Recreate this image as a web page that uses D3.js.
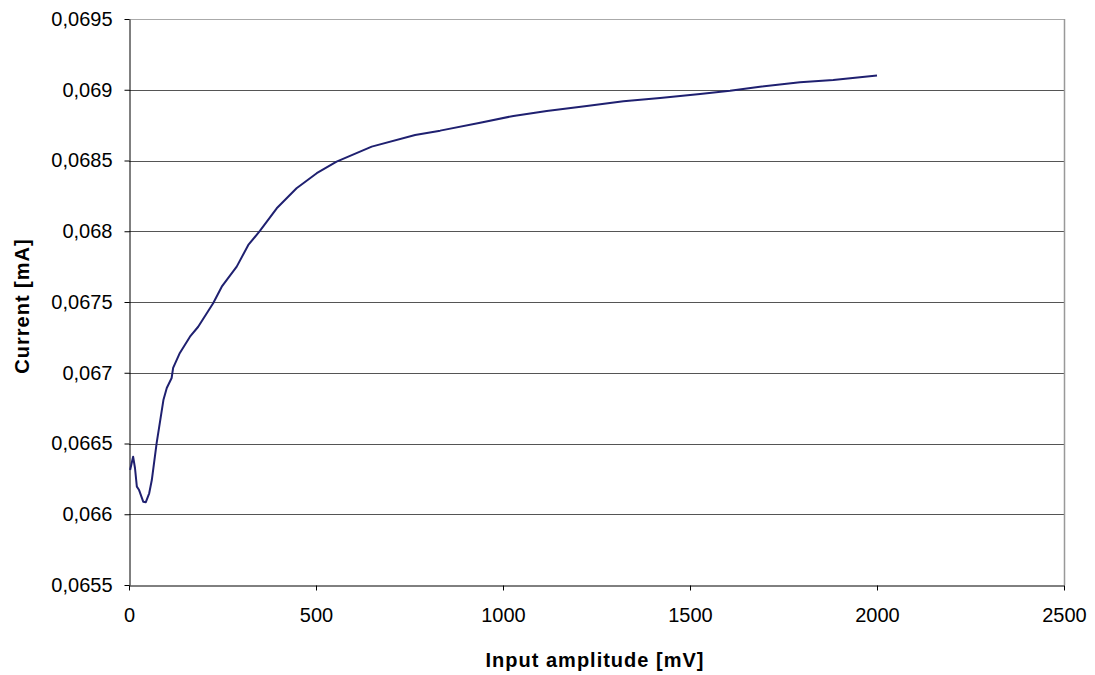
<!DOCTYPE html>
<html>
<head>
<meta charset="utf-8">
<script src="https://cdn.jsdelivr.net/npm/d3@7"></script>
<style>
  body { margin: 0; background: #fff; }
  svg { display: block; }
  text { font-family: "Liberation Sans", Arial, sans-serif; }
</style>
</head>
<body>
<svg id="chart" width="1095" height="675"></svg>
<script>
// Data
const amplitude = [3, 11, 16, 21, 27, 38, 45, 54, 61, 74, 92, 101, 114, 118, 136, 163, 185, 225, 248, 288, 319, 350, 395, 448, 502, 555, 649, 765, 832, 939, 1028, 1117, 1224, 1322, 1420, 1527, 1607, 1687, 1794, 1883, 2000];
const current = [0.066313, 0.066407, 0.066327, 0.066195, 0.066171, 0.066089, 0.066085, 0.066148, 0.066242, 0.066504, 0.066807, 0.066892, 0.066963, 0.067034, 0.06714, 0.067255, 0.067325, 0.067491, 0.067608, 0.06775, 0.067903, 0.068002, 0.068162, 0.068304, 0.06841, 0.068492, 0.068598, 0.06868, 0.068711, 0.068767, 0.068815, 0.06885, 0.068885, 0.068918, 0.068942, 0.06897, 0.068993, 0.069022, 0.069053, 0.069069, 0.0691];
const xTicks = [0, 500, 1000, 1500, 2000, 2500];
const yTicks = [0.0655, 0.066, 0.0665, 0.067, 0.0675, 0.068, 0.0685, 0.069, 0.0695];
const xTitle = "Input amplitude [mV]";
const yTitle = "Current [mA]";

(function () {
const svg = d3.select("#chart");
const mLeft = 129, mRight = 1064, mTop = 19, mBottom = 585;

const x = d3.scaleLinear().domain([0, 2500]).range([mLeft, mRight]);
const y = d3.scaleLinear().domain([0.0655, 0.0695]).range([mBottom, mTop]);

// gridlines
svg.append("g").selectAll("line")
  .data(yTicks.slice(1, -1))
  .join("line")
  .attr("x1", mLeft).attr("x2", mRight)
  .attr("y1", d => Math.round(y(d)) + 0.5).attr("y2", d => Math.round(y(d)) + 0.5)
  .attr("stroke", "#555").attr("stroke-width", 1);

// top and right frame
svg.append("line").attr("x1", mLeft).attr("x2", mRight)
  .attr("y1", Math.round(y(0.0695)) + 0.5).attr("y2", Math.round(y(0.0695)) + 0.5)
  .attr("stroke", "#aaa").attr("stroke-width", 1);
svg.append("line").attr("x1", Math.round(mRight) + 0.5).attr("x2", Math.round(mRight) + 0.5)
  .attr("y1", mTop).attr("y2", mBottom)
  .attr("stroke", "#999").attr("stroke-width", 1.5);

const fmt = d => String(d).replace(".", ",");

// y axis
const yAxis = svg.append("g")
  .attr("transform", `translate(${mLeft + 0.5},0)`)
  .call(d3.axisLeft(y).tickValues(yTicks).tickFormat(fmt).tickSize(5).tickSizeOuter(0).tickPadding(12));
yAxis.selectAll("text").attr("font-size", 20).attr("fill", "#000")
  .style("font-family", "'Liberation Sans', Arial, sans-serif");
yAxis.selectAll("line, path").attr("stroke", "#000");

// x axis
const xAxis = svg.append("g")
  .attr("transform", `translate(0,${mBottom + 0.5})`)
  .call(d3.axisBottom(x).tickValues(xTicks).tickFormat(d => d).tickSize(5).tickSizeOuter(0).tickPadding(17));
xAxis.selectAll("text").attr("font-size", 20).attr("fill", "#000")
  .style("font-family", "'Liberation Sans', Arial, sans-serif");
xAxis.selectAll("line, path").attr("stroke", "#000");

// line
const pts = amplitude.map((a, i) => [a, current[i]]);
svg.append("path")
  .datum(pts)
  .attr("fill", "none")
  .attr("stroke", "#1f2070")
  .attr("stroke-width", 2)
  .attr("stroke-linejoin", "round")
  .attr("d", d3.line().x(d => x(d[0])).y(d => y(d[1])));

// titles
svg.append("text")
  .attr("x", 595).attr("y", 667)
  .attr("text-anchor", "middle")
  .attr("font-size", 20).attr("font-weight", "bold")
  .attr("letter-spacing", 1)
  .text(xTitle);

svg.append("text")
  .attr("transform", `translate(29,306) rotate(-90)`)
  .attr("text-anchor", "middle")
  .attr("font-size", 20).attr("font-weight", "bold")
  .attr("letter-spacing", 1)
  .text(yTitle);
})();
</script>
</body>
</html>
